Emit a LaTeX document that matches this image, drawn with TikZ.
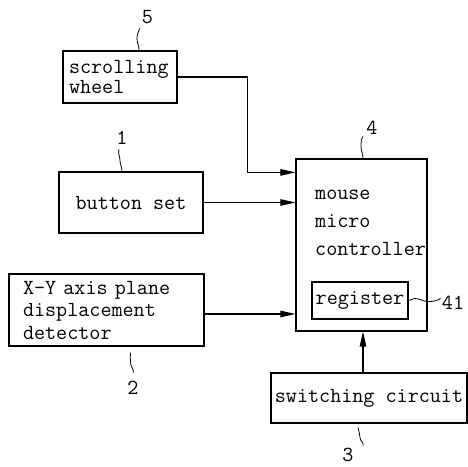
\documentclass[tikz,border=0pt]{standalone}
\usepackage{fontspec}
\usetikzlibrary{arrows.meta,calc}
\begin{document}
\begin{tikzpicture}[x=1pt,y=-1pt,
 box/.style={draw,line width=1.2pt,rectangle,inner sep=0pt,font=\ttfamily\fontsize{21.5}{22.5}\selectfont},
 arr/.style={line width=1.1pt,-{Triangle[length=15pt,width=6.5pt]}},
 lead/.style={line width=0.8pt},
 num/.style={font=\ttfamily\fontsize{21.5}{22}\selectfont,inner sep=0pt}]
\path[use as bounding box] (0,0) rectangle (468,466);
% boxes
\node[box,minimum width=114pt,minimum height=52pt,text width=102pt,align=left,font=\ttfamily\fontsize{21.5}{19.5}\selectfont] (scroll) at (120,77) {scrolling\\wheel};
\node[box,minimum width=144pt,minimum height=61pt] (button) at (131,202.5) {button set};
\node[box,minimum width=195pt,minimum height=72pt,text width=167pt,align=left] (xy) at (106.5,310) {X-Y axis plane\\displacement\\detector};
\node[box,minimum width=131pt,minimum height=172pt] (mcu) at (361.5,245) {};
\node[font=\ttfamily\fontsize{21.5}{28}\selectfont,anchor=base west,align=left,inner sep=0pt] (mcutext) at (315,255) {mouse\\micro\\controller};
\node[box,minimum width=96pt,minimum height=37pt] (reg) at (360,300.5) {register};
\node[box,minimum width=196pt,minimum height=50pt] (switch) at (369,398) {switching circuit};
% labels
\node[num] (n5) at (147.5,17.5) {5};
\node[num] (n1) at (122,137.5) {1};
\node[num] (n4) at (372,128) {4};
\node[num] (n41) at (453,302.5) {41};
\node[num] (n2) at (133,388) {2};
\node[num] (n3) at (348,455) {3};
% leads
\draw[lead] ([xshift=19pt]scroll.north) to[out=90,in=-90] ++(-2,-12) to[out=90,in=-120] ++(3,-10);
\draw[lead] ([xshift=-9pt]button.north) to[out=90,in=-90] ++(-2,-11) to[out=90,in=-110] ++(-1,-11);
\draw[lead] ([xshift=1.5pt]mcu.north) to[out=90,in=-90] ++(-2,-12) to[out=90,in=-120] ++(2,-10);
\draw[lead] (reg.east) to[out=0,in=180] ++(6,-2) to[out=0,in=180] ++(14,3) to[out=0,in=-150] ++(12,-3);
\draw[lead] ([xshift=24pt,yshift=-6pt]xy.south) to[out=-100,in=90] ++(0,10) to[out=-90,in=90] ++(3,10);
\draw[lead] ([xshift=-11pt,yshift=-4pt]switch.south) to[out=-80,in=90] ++(2,10) to[out=-90,in=70] ++(3,8);
% connectors
\draw[arr] (scroll.east) -| ++(70,0) |- ([yshift=-14pt]mcu.north west);
\draw[arr] (button.east) -- (button.east -| mcu.west);
\draw[arr] ([yshift=-4pt]xy.east) -- ([yshift=-4pt]xy.east -| mcu.west);
\draw[arr] ([xshift=-6pt]switch.north) -- ([xshift=-6pt]switch.north |- mcu.south);
\end{tikzpicture}
\end{document}
